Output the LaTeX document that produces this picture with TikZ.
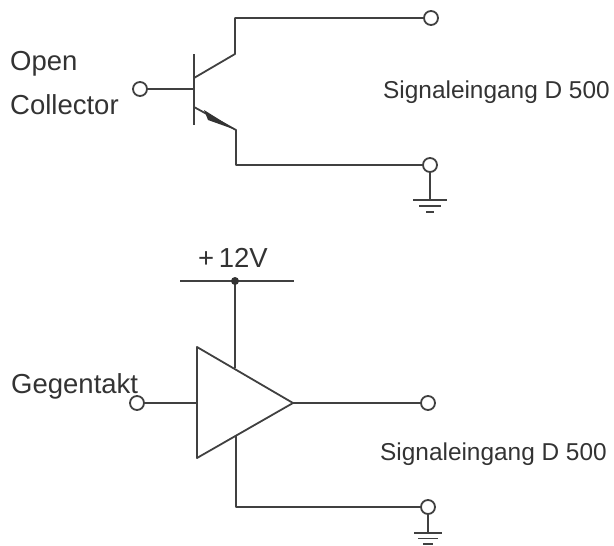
\documentclass[tikz,border=0pt]{standalone}
\usepackage{fontspec}
\setmainfont{Liberation Sans}
\tikzset{
  terminal/.style={circle,fill=white,inner sep=0pt,minimum size=14pt},
  wire/.style={line width=1.8pt,draw=black!75},
  biglabel/.style={font=\fontsize{27.5}{32}\selectfont,text=black!80,anchor=base west,inner sep=0pt},
  smalllabel/.style={font=\fontsize{24.4}{28}\selectfont,text=black!80,anchor=base west,inner sep=0pt}
}
\begin{document}
\begin{tikzpicture}[x=1pt,y=-1pt,line join=round]
\useasboundingbox (0,0) rectangle (614,546);
% transistor
\coordinate (c1) at (235,17);
\coordinate (c2) at (235,54);
\coordinate (c3) at (194,78);
\coordinate (e1) at (194,107);
\coordinate (e2) at (236,130);
\coordinate (e3) at (236,165);
\coordinate (barT) at (194,54);
\coordinate (barB) at (194,125);
\coordinate (barM) at (194,89);
\node [terminal,wire] (outT) at (431,18) {};
\node [terminal,wire] (gndT) at (430,165) {};
\node [terminal,wire] (inT) at (140,89) {};
\draw [wire] (outT) -- (outT -| c1) -- (c2) -- (c3);
\draw [wire] (barT) -- (barB);
\draw [wire] (inT) -- (barM);
\draw [wire] (e1) -- (e2) -- (e3) -- (gndT);
\fill [black!80] (204,110) -- (e2) -- (208,120) -- cycle;
% amplifier
\coordinate (busL) at (180,281);
\coordinate (busR) at (294,281);
\coordinate (bus) at (235,281);
\coordinate (tri1) at (197,347);
\coordinate (tri2) at (293,403);
\coordinate (tri3) at (197,458);
\coordinate (triIn) at (197,403);
\coordinate (triTop) at (235,368);
\coordinate (triBot) at (236,436);
\coordinate (lowC) at (236,507);
\node [terminal,wire] (outB) at (428,403) {};
\node [terminal,wire] (gndB) at (428,507) {};
\node [terminal,wire] (inB) at (137,403) {};
\draw [wire] (busL) -- (busR);
\draw [wire] (bus) -- (triTop);
\fill [black!80] (bus) circle (4);
\draw [wire] (tri1) -- (tri2) -- (tri3) -- cycle;
\draw [wire] (inB) -- (triIn);
\draw [wire] (tri2) -- (outB);
\draw [wire] (triBot) -- (lowC) -- (gndB);
% ground symbols
\foreach \Term/\BarY/\HalfA/\HalfB/\HalfC/\GapB/\GapC in {gndT/200/17/11/4/6/12, gndB/533/14/10/5/5.5/11}
{
  \coordinate (g) at (\Term |- 0,\BarY);
  \draw [wire] (\Term) -- (g);
  \draw [wire] ([xshift=-\HalfA pt]g) -- ([xshift=\HalfA pt]g);
  \draw [wire] ([xshift=-\HalfB pt,yshift=-\GapB pt]g) -- ([xshift=\HalfB pt,yshift=-\GapB pt]g);
  \draw [wire] ([xshift=-\HalfC pt,yshift=-\GapC pt]g) -- ([xshift=\HalfC pt,yshift=-\GapC pt]g);
}
% texts
\node [biglabel] (open) at (10,70) {Open};
\node [biglabel] (coll) at (10,114) {Collector};
\node [biglabel] (gegen) at (11,393) {Gegentakt};
\node [smalllabel] (sigT) at (383,98) {Signaleingang D 500};
\node [smalllabel] (sigB) at (380,460) {Signaleingang D 500};
\node [biglabel] (volt) at (198,267) {+\,12V};
\end{tikzpicture}
\end{document}
